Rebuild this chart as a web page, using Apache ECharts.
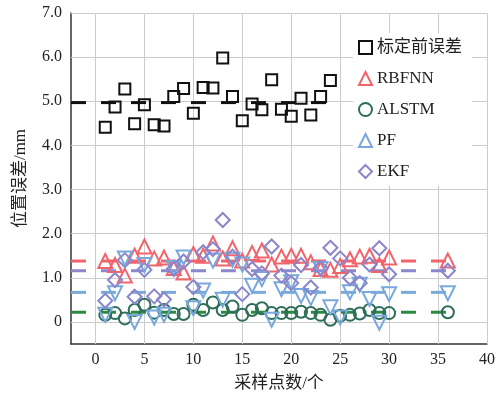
<!DOCTYPE html>
<html><head><meta charset="utf-8">
<script src="https://cdn.jsdelivr.net/npm/echarts@6/dist/echarts.min.js"></script>
<style>html,body{margin:0;padding:0;background:#fff}#c{width:498px;height:397px}</style>
</head><body><div id="c"></div>
<script>
const seriesNames = ['标定前误差', 'RBFNN', 'ALSTM', 'PF', 'EKF'];
const xBefore = [1,2,3,4,5,6,7,8,9,10,11,12,13,14,15,16,17,18,19,20,21,22,23,24];
const xModels = [1,2,3,4,5,6,7,8,9,10,11,12,13,14,15,16,17,18,19,20,21,22,23,24,25,26,27,28,29,30,36];
const before = [4.41,4.87,5.28,4.49,4.92,4.47,4.44,5.11,5.29,4.73,5.31,5.30,5.98,5.11,4.56,4.94,4.81,5.49,4.82,4.66,5.07,4.69,5.11,5.47];
const rbfnn = [1.38,1.29,1.05,1.50,1.71,1.44,1.46,1.22,1.12,1.54,1.50,1.78,1.44,1.67,1.39,1.56,1.62,1.30,1.48,1.50,1.50,1.35,1.20,1.18,1.27,1.42,1.48,1.50,1.29,1.46,1.39];
const alstm = [0.16,0.20,0.08,0.27,0.39,0.21,0.27,0.18,0.18,0.39,0.27,0.44,0.27,0.35,0.16,0.27,0.31,0.20,0.20,0.20,0.23,0.20,0.16,0.05,0.14,0.16,0.19,0.27,0.20,0.20,0.22];
const pf = [0.16,0.65,1.44,0.00,1.29,0.10,0.16,1.22,1.46,0.31,0.71,1.39,0.50,1.41,1.30,0.82,0.97,0.05,0.74,0.90,0.59,0.54,1.20,0.33,0.10,0.67,0.84,0.52,-0.02,0.63,0.65];
const ekf = [0.48,0.95,1.40,0.57,1.18,0.58,0.51,1.20,1.37,0.79,1.58,1.65,2.31,1.48,0.63,1.20,1.10,1.71,1.05,0.88,1.29,0.78,1.22,1.68,1.44,1.00,0.88,1.30,1.67,1.08,1.16];
const meanLevels = [4.97, 1.38, 0.22, 0.67, 1.16];
const xTickLabels = [0,5,10,15,20,25,30,35,40];
const yTickLabels = [0,1,2,3,4,5,6,7];

const colors = ['#111111', '#f2646c', '#2e6e58', '#78a8dc', '#8a86cc'];
const lineColors = ['#111111', '#f2646c', '#2b8a40', '#7aaad8', '#8b88cf'];
const symbols = ['rect', 'triangle', 'circle', 'triangle', 'diamond'];
const rotates = [0, 0, 0, 180, 0];
const sizes = [11, 14, 12, 14, 14];
const font = '"Liberation Serif", "Times New Roman", "Noto Sans CJK SC", serif';

const values = [before, rbfnn, alstm, pf, ekf];
const xsets = [xBefore, xModels, xModels, xModels, xModels];
const xStart = -2.5;

const series = [];
// major grid lines
series.push({
  type: 'line', data: [[xStart, -0.5]], silent: true, z: 0, symbol: 'none', showSymbol: false,
  lineStyle: {width: 0},
  markLine: {
    silent: true, symbol: 'none', label: {show: false}, animation: false, z: 1,
    lineStyle: {color: '#cccccc', type: 'solid', width: 1},
    data: xTickLabels.map(v => ({xAxis: v})).concat(yTickLabels.map(v => ({yAxis: v})))
  }
});
// mean dashed lines
values.forEach((vals, i) => {
  const xs = xsets[i];
  series.push({
    name: seriesNames[i] + '均值', type: 'line', silent: true, z: 2,
    symbol: 'none', animation: false,
    data: [[xStart, meanLevels[i]], [xs[xs.length - 1], meanLevels[i]]],
    lineStyle: {color: lineColors[i], width: 3, type: [15, 15]}
  });
});
// scatter points
values.forEach((vals, i) => {
  series.push({
    name: seriesNames[i], type: 'scatter', z: 3, animation: false,
    symbol: symbols[i], symbolSize: sizes[i], symbolRotate: rotates[i],
    data: vals.map((v, k) => [xsets[i][k], v]),
    itemStyle: {color: 'rgba(255,255,255,0)', borderColor: colors[i], borderWidth: 2, opacity: 1}
  });
});

const chart = echarts.init(document.getElementById('c'), null, {renderer: 'canvas'});
chart.setOption({
  backgroundColor: '#fff',
  animation: false,
  grid: {left: 71, right: 11, top: 13, bottom: 52, containLabel: false},
  legend: {
    data: seriesNames, orient: 'vertical', left: 353, top: 33, z: 10,
    backgroundColor: '#fff', padding: [6, 10, 6, 5],
    itemWidth: 13, itemHeight: 13, itemGap: 14,
    textStyle: {fontFamily: font, fontSize: 17, color: '#222'}
  },
  xAxis: {
    type: 'value', min: -2.5, max: 40, interval: 2.5,
    name: '采样点数/个', nameLocation: 'middle', nameGap: 31,
    nameTextStyle: {fontFamily: font, fontSize: 17, color: '#222'},
    axisLine: {onZero: false, lineStyle: {color: '#333', width: 1.5}},
    axisTick: {show: true, inside: true, length: 5, customValues: xTickLabels, lineStyle: {color: '#333'}},
    axisLabel: {customValues: xTickLabels, fontFamily: font, fontSize: 16, color: '#222', margin: 8,
      formatter: v => (v % 5 === 0 ? String(v) : '')},
    splitLine: {show: true, lineStyle: {color: '#dedede', type: [2, 2], width: 1}}
  },
  yAxis: {
    type: 'value', min: -0.5, max: 7, interval: 0.5,
    name: '位置误差/mm', nameLocation: 'middle', nameGap: 42,
    nameTextStyle: {fontFamily: font, fontSize: 17, color: '#222'},
    axisLine: {show: true, onZero: false, lineStyle: {color: '#333', width: 1.5}},
    axisTick: {show: true, inside: true, length: 5, customValues: yTickLabels, lineStyle: {color: '#333'}},
    axisLabel: {customValues: yTickLabels, fontFamily: font, fontSize: 16, color: '#222', margin: 9,
      formatter: v => (v === 0 ? '0' : (Number.isInteger(v) ? v.toFixed(1) : ''))},
    splitLine: {show: true, lineStyle: {color: '#dedede', type: [2, 2], width: 1}}
  },
  series: series
});
</script></body></html>
